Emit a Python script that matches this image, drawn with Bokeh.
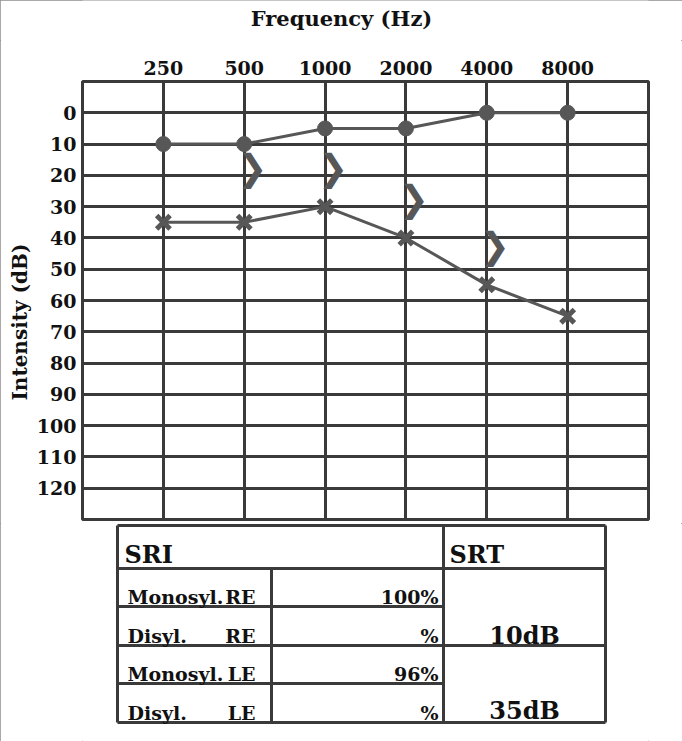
from bokeh.plotting import figure
from bokeh.layouts import column
from bokeh.models import FixedTicker, Range1d, Title
from bokeh.core.properties import value
from bokeh.embed import file_html
from bokeh.resources import INLINE

# ---------------- data ----------------
frequencies = [250, 500, 1000, 2000, 4000, 8000]
freq_labels = ["250", "500", "1000", "2000", "4000", "8000"]
db_ticks = [0, 10, 20, 30, 40, 50, 60, 70, 80, 90, 100, 110, 120]

right_air = [10, 10, 5, 5, 0, 0]          # circles
left_air = [35, 35, 30, 40, 55, 65]       # crosses
bone_freqs = [500, 1000, 2000, 4000]
bone_db = [20, 20, 30, 45]                # ">" symbols

sri_tests = ["Monosyl.", "Disyl.", "Monosyl.", "Disyl."]
sri_ears = ["RE", "RE", "LE", "LE"]
sri_scores = ["100%", "%", "96%", "%"]
srt_values = ["10dB", "35dB"]

# ---------------- style ----------------
SERIF = "DejaVu Serif"
GRID = "#3a3a3a"
MARK = "#575757"
W = 682
HEAD_H = 40
TOP_H = 483
TAB_H = 218
FRAME_L, FRAME_R, FRAME_T, FRAME_B = 82, 648, 81, 519


def blank(height, y0):
    f = figure(width=W, height=height, output_backend="svg", toolbar_location=None,
               x_range=Range1d(FRAME_L, FRAME_R), y_range=Range1d(y0 + height, y0),
               min_border_left=FRAME_L, min_border_right=W - FRAME_R,
               min_border_top=0, min_border_bottom=0)
    f.axis.visible = False
    f.grid.visible = False
    f.outline_line_color = None
    return f


# ---------------- header ----------------
h = blank(HEAD_H, 0)
h.text([341], [18], text=["Frequency (Hz)"], text_font=value(SERIF),
       text_font_style="bold", text_font_size="21px", text_color="#111111",
       text_align="center", text_baseline="middle")

# ---------------- audiogram ----------------
p = figure(width=W, height=TOP_H, output_backend="svg", toolbar_location=None,
           x_axis_type="log", x_range=Range1d(125, 16000), y_range=Range1d(130, -10),
           x_axis_location="above", min_border_left=FRAME_L, min_border_right=W - FRAME_R,
           min_border_top=FRAME_T - HEAD_H, min_border_bottom=HEAD_H + TOP_H - FRAME_B)
p.outline_line_color = GRID
p.outline_line_width = 3
p.background_fill_color = "white"
p.border_fill_color = "white"

p.xaxis.ticker = FixedTicker(ticks=frequencies)
p.xaxis.major_label_overrides = {f: l for f, l in zip(frequencies, freq_labels)}
p.yaxis.ticker = FixedTicker(ticks=db_ticks)
p.xaxis.minor_tick_line_color = None
p.yaxis.minor_tick_line_color = None
for ax in (p.xaxis[0], p.yaxis[0]):
    ax.axis_line_color = None
    ax.major_tick_line_color = None
    ax.major_label_text_font = SERIF
    ax.major_label_text_font_style = "bold"
    ax.major_label_text_font_size = "19px"
    ax.major_label_text_color = "#111111"
p.xaxis.major_label_standoff = 1
p.yaxis.major_label_standoff = 0

p.xgrid.ticker = FixedTicker(ticks=frequencies)
p.ygrid.ticker = FixedTicker(ticks=db_ticks)
for g in (p.xgrid[0], p.ygrid[0]):
    g.grid_line_color = GRID
    g.grid_line_width = 3
    g.grid_line_alpha = 1.0

# right ear air conduction
p.line(frequencies, right_air, line_color=MARK, line_width=3)
p.scatter(frequencies, right_air, marker="circle", size=15, fill_color=MARK, line_color=MARK)
# left ear air conduction
p.line(frequencies, left_air, line_color=MARK, line_width=3)
p.scatter(frequencies, left_air, marker="x", size=19, line_color=MARK, line_width=5)
# bone conduction
p.text(bone_freqs, bone_db, text=value("\u276F"), text_font=value("DejaVu Sans"),
       text_font_style="bold", text_font_size="36px", text_color=MARK,
       text_align="center", text_baseline="middle", x_offset=8, y_offset=-8)

p.add_layout(Title(text="Intensity (dB)", align="left", offset=119, standoff=4,
                   text_font=SERIF, text_font_style="bold", text_font_size="20px",
                   text_color="#111111"), "left")

# ---------------- table ----------------
t = blank(TAB_H, HEAD_H + TOP_H)

col_x = [117, 271, 443, 605]
row_y = [525, 568, 606, 645, 683, 722]
segs = [(col_x[0], row_y[0], col_x[3], row_y[0]),
        (col_x[0], row_y[5], col_x[3], row_y[5]),
        (col_x[0], row_y[0], col_x[0], row_y[5]),
        (col_x[3], row_y[0], col_x[3], row_y[5]),
        (col_x[0], row_y[1], col_x[3], row_y[1]),
        (col_x[0], row_y[3], col_x[3], row_y[3]),
        (col_x[0], row_y[2], col_x[2], row_y[2]),
        (col_x[0], row_y[4], col_x[2], row_y[4]),
        (col_x[2], row_y[0], col_x[2], row_y[5]),
        (col_x[1], row_y[1], col_x[1], row_y[5])]
t.segment([s[0] for s in segs], [s[1] for s in segs], [s[2] for s in segs],
          [s[3] for s in segs], line_color=GRID, line_width=3)

txt = dict(text_font=value(SERIF), text_font_style="bold", text_color="#111111",
           text_baseline="alphabetic")
LIFT = 7
base = [row_y[i + 2] - 3 - LIFT for i in range(4)]
t.text([col_x[0] + 7, col_x[2] + 6], [row_y[1] - 5 - 9] * 2, text=["SRI", "SRT"],
       text_font_size="24px", text_align="left", **txt)
t.text([col_x[0] + 10] * 4, base, text=sri_tests, text_font_size="19px",
       text_align="left", **txt)
t.text([255] * 4, base, text=sri_ears, text_font_size="19px", text_align="right", **txt)
t.text([col_x[2] - 5] * 4, base, text=sri_scores, text_font_size="19px",
       text_align="right", **txt)
t.text([(col_x[2] + col_x[3]) / 2] * 2, [base[1], base[3] - 2], text=srt_values,
       text_font_size="24px", text_align="center", **txt)

layout = column(h, p, t, spacing=0,
                styles={"outline": "1px solid #8c8c8c", "outline-offset": "-1px"})
open("out.html", "w").write(file_html(layout, INLINE))
